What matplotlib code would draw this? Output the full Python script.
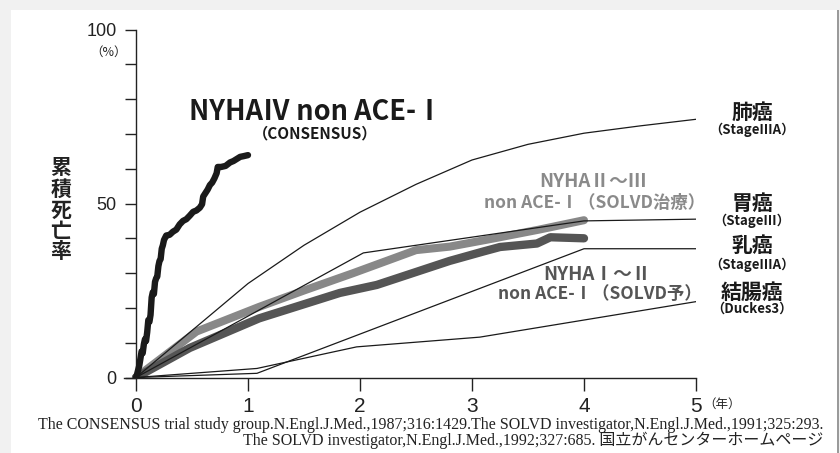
import matplotlib
matplotlib.use("Agg")
import matplotlib.pyplot as plt
from matplotlib.patches import Rectangle
from matplotlib.ticker import MultipleLocator

plt.rcParams['font.family'] = ['Liberation Sans', 'Noto Sans CJK JP', 'DejaVu Sans']

# ---------------- data ----------------
years_consensus = [0.0, 0.01, 0.03, 0.04, 0.05, 0.06, 0.07, 0.08, 0.09, 0.10, 0.11, 0.12,
                   0.13, 0.14, 0.15, 0.16, 0.17, 0.18, 0.19, 0.20, 0.21, 0.22, 0.23, 0.24,
                   0.25, 0.27, 0.30, 0.33, 0.36, 0.39, 0.42, 0.45, 0.48, 0.51, 0.54, 0.57,
                   0.59, 0.60, 0.62, 0.64, 0.66, 0.68, 0.70, 0.72, 0.73, 0.76, 0.80, 0.84,
                   0.87, 0.90, 0.93, 0.96, 1.0]
mort_consensus = [0.0, 1.0, 3.5, 5.5, 7.5, 7.0, 9.5, 11.0, 10.5, 13.0, 16.5, 16.0,
                  18.0, 23.0, 24.5, 24.0, 27.5, 28.5, 29.0, 32.0, 33.5, 34.0, 37.0, 38.0,
                  39.5, 40.8, 41.0, 41.9, 42.5, 44.0, 45.0, 45.5, 46.5, 47.6, 48.0, 48.8,
                  49.8, 52.0, 53.0, 54.0, 55.3, 56.0, 57.2, 58.7, 60.5, 60.5, 60.8, 61.8,
                  62.2, 62.8, 63.4, 63.6, 63.9]

years_solvd_tx = [0.0, 0.54, 1.1, 1.5, 1.94, 2.5, 2.8, 3.2, 3.6, 4.0]
mort_solvd_tx = [0.0, 13.2, 20.3, 25.0, 30.0, 36.6, 37.6, 40.0, 42.5, 45.2]

years_solvd_prev = [0.0, 0.48, 1.1, 1.82, 2.15, 2.8, 3.1, 3.25, 3.58, 3.7, 4.0]
mort_solvd_prev = [0.0, 8.5, 17.0, 24.3, 26.6, 33.5, 36.2, 37.5, 38.5, 40.3, 40.0]

years_lung = [0.0, 0.5, 1.0, 1.5, 2.0, 2.5, 3.0, 3.5, 4.0, 4.5, 5.0]
mort_lung = [0.0, 13.5, 27.0, 38.0, 47.5, 55.5, 62.5, 67.0, 70.2, 72.3, 74.2]

years_stomach = [0.0, 2.03, 4.0, 5.0]
mort_stomach = [0.0, 35.8, 45.0, 45.5]

years_breast = [0.0, 1.08, 4.0, 5.0]
mort_breast = [0.0, 1.2, 37.0, 37.0]

years_colon = [0.0, 1.08, 1.97, 3.07, 5.0]
mort_colon = [0.0, 2.6, 8.8, 11.6, 21.8]

x_ticks = [0, 1, 2, 3, 4, 5]
y_major = [0, 50, 100]

# ---------------- figure ----------------
W, H = 840, 453
fig = plt.figure(figsize=(W / 100, H / 100), dpi=100, facecolor='#f1f1f1')
# white panel with thin gray right edge
fig.patches.append(Rectangle((11 / W, 0), 826 / W, 443 / H, transform=fig.transFigure,
                             facecolor='white', edgecolor='none', zorder=-5))
fig.patches.append(Rectangle((837 / W, 0), 1.5 / W, 443 / H, transform=fig.transFigure,
                             facecolor='#9a9a9a', edgecolor='none', zorder=-5))

x0 = -0.107
ax = fig.add_axes([124 / W, (H - 377.5) / H, 572 / W, 348 / H])
ax.set_facecolor('none')
ax.set_xlim(x0, 5)
ax.set_ylim(0, 100)

for s in ['top', 'right']:
    ax.spines[s].set_visible(False)
ax.spines['left'].set_position(('data', 0))
ax.spines['left'].set_bounds(0, 100)
ax.spines['bottom'].set_bounds(x0, 5)
for s in ['left', 'bottom']:
    ax.spines[s].set_color('#222222')
    ax.spines[s].set_linewidth(1.0)

ax.set_xticks(x_ticks)
ax.set_xticklabels([str(t) for t in x_ticks], fontsize=15)
ax.set_yticks(y_major)
ax.set_yticklabels([str(t) for t in y_major], fontsize=13)
ax.yaxis.set_minor_locator(MultipleLocator(10))
ax.tick_params(axis='x', direction='out', length=9, width=1.0, color='#222222', pad=5,
               labelcolor='#222222')
ax.tick_params(axis='y', which='both', direction='out', length=8, width=1.0, color='#222222',
               pad=6, labelcolor='#222222')

# ---------------- curves ----------------
thin = dict(color='#1a1a1a', lw=0.9, zorder=3)
ax.plot(years_lung, mort_lung, **thin)
ax.plot(years_stomach, mort_stomach, **thin)
ax.plot(years_breast, mort_breast, **thin)
ax.plot(years_colon, mort_colon, **thin)

ax.plot(years_solvd_tx, mort_solvd_tx, color='#888888', lw=5.8, solid_capstyle='round',
        solid_joinstyle='round', zorder=2)
ax.plot(years_solvd_prev, mort_solvd_prev, color='#555555', lw=6.0, solid_capstyle='round',
        solid_joinstyle='round', zorder=2)
ax.plot(years_consensus, mort_consensus, color='#1a1a1a', lw=4.6, solid_capstyle='round',
        solid_joinstyle='round', zorder=4)

# ---------------- text ----------------
jpn = ['Noto Sans CJK JP', 'DejaVu Sans']

ax.text(1.607, 76.3, 'NYHAⅣ non ACE-Ⅰ', fontsize=19.5, fontweight='bold', family=jpn,
        color='#1a1a1a', ha='center', va='center')
ax.text(1.60, 70.2, '（CONSENSUS）', fontsize=11, fontweight='bold', family=jpn,
        color='#1a1a1a', ha='center', va='center')

ax.text(4.08, 56.2, 'NYHAⅡ～Ⅲ', fontsize=13.5, fontweight='bold', family=jpn,
        color='#8a8a8a', ha='center', va='center')
ax.text(4.09, 50.1, 'non ACE-Ⅰ（SOLVD治療）', fontsize=12.5, fontweight='bold', family=jpn,
        color='#8a8a8a', ha='center', va='center')

ax.text(4.12, 29.5, 'NYHAⅠ～Ⅱ', fontsize=13.5, fontweight='bold', family=jpn,
        color='#555555', ha='center', va='center')
ax.text(4.14, 24.0, 'non ACE-Ⅰ（SOLVD予）', fontsize=12.5, fontweight='bold', family=jpn,
        color='#555555', ha='center', va='center')

cancers = [('肺癌', '（StageⅢA）', 76.1, 71.1),
           ('胃癌', '（StageⅢ）', 49.9, 45.0),
           ('乳癌', '（StageⅢA）', 37.8, 32.3),
           ('結腸癌', '（Duckes3）', 24.6, 19.7)]
for name, sub, yn, ys in cancers:
    ax.text(5.5, yn, name, fontsize=15, fontweight='bold', family=jpn, color='#1a1a1a',
            ha='center', va='center', clip_on=False)
    ax.text(5.5, ys, sub, fontsize=9.5, fontweight='bold', family=jpn, color='#1a1a1a',
            ha='center', va='center', clip_on=False)

ax.text(-0.241, 93.5, '（%）', fontsize=9, family=jpn, color='#222222', ha='center',
        va='center', clip_on=False)
ax.text(5.065, -7.6, '（年）', fontsize=9, family=jpn, color='#222222', ha='left',
        va='center', clip_on=False)

# vertical y label, one character per row
ylab = '累積死亡率'
for i, ch in enumerate(ylab):
    fig.text(61 / W, 1 - (168 + i * 21) / H, ch, fontsize=15, fontweight='bold', family=jpn,
             color='#222222', ha='center', va='center')

foot1 = ('The CONSENSUS trial study group.N.Engl.J.Med.,1987;316:1429.'
         'The SOLVD investigator,N.Engl.J.Med.,1991;325:293.')
foot2 = 'The SOLVD investigator,N.Engl.J.Med.,1992;327:685. 国立がんセンターホームページ'
fn = ['Liberation Serif', 'Noto Sans CJK JP']
fig.text(823 / W, 1 - 425 / H, foot1, fontsize=11.5, family=fn, color='#222222',
         ha='right', va='center')
fig.text(823 / W, 1 - 440 / H, foot2, fontsize=11.5, family=fn, color='#222222',
         ha='right', va='center')

fig.savefig('out.png', dpi=100, facecolor=fig.get_facecolor())
